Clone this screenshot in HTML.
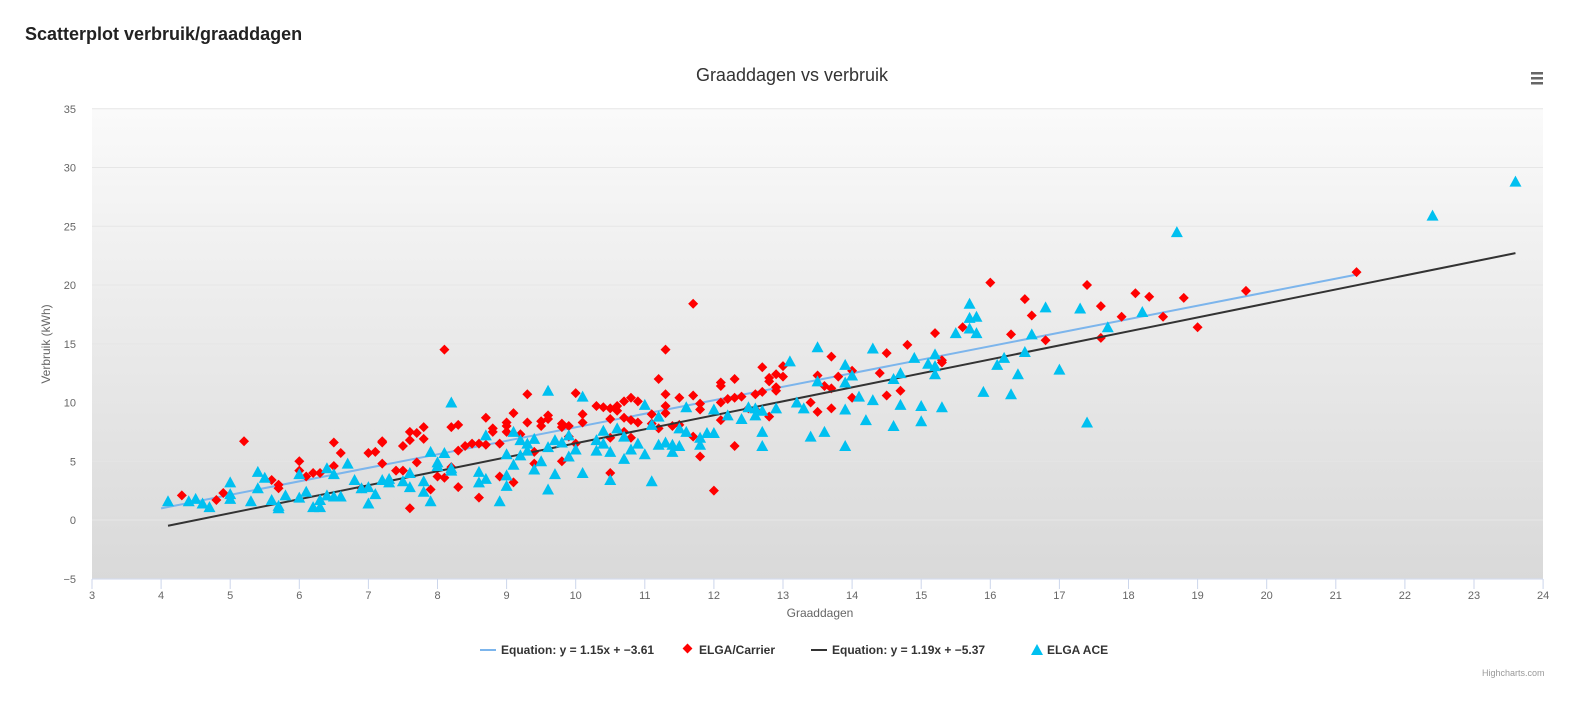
<!DOCTYPE html>
<html><head><meta charset="utf-8">
<style>
body{margin:0;background:#fff;width:1573px;height:706px;overflow:hidden;font-family:"Liberation Sans",sans-serif;}
h1{position:absolute;left:25px;top:24px;margin:0;font-size:18px;font-weight:bold;color:#222;}
svg{position:absolute;left:0;top:0;}
</style></head><body>
<h1>Scatterplot verbruik/graaddagen</h1>
<svg id="s" width="1573" height="706" xmlns="http://www.w3.org/2000/svg">
<defs><linearGradient id="g" x1="0" y1="0" x2="0" y2="1"><stop offset="0" stop-color="#fafafa"/><stop offset="1" stop-color="#d9d9d9"/></linearGradient></defs>
<text x="792" y="81" text-anchor="middle" font-size="18" fill="#333">Graaddagen vs verbruik</text>
<rect x="92" y="109" width="1451" height="470" fill="url(#g)"/>
<g fill="#666"><rect x="1531" y="72" width="12" height="2.5"/><rect x="1531" y="77" width="12" height="2.5"/><rect x="1531" y="82" width="12" height="2.5"/></g>
<g id="grid"></g>
<text transform="translate(50,344) rotate(-90)" text-anchor="middle" font-size="12" fill="#666">Verbruik (kWh)</text>
<text x="820" y="617" text-anchor="middle" font-size="12" fill="#666">Graaddagen</text>
<g id="pts"></g>
<g font-size="12" font-weight="bold" fill="#333">
<line x1="480" y1="650" x2="496" y2="650" stroke="#7cb5ec" stroke-width="2"/><text x="501" y="654">Equation: y = 1.15x + −3.61</text>
<rect x="684" y="645" width="7" height="7" fill="red" transform="rotate(45 687.5 648.5)"/><text x="699" y="654">ELGA/Carrier</text>
<line x1="811" y1="650" x2="827" y2="650" stroke="#333" stroke-width="2"/><text x="832" y="654">Equation: y = 1.19x + −5.37</text>
<path d="M1031,655 L1037,644 L1043,655Z" fill="#00c0f0"/><text x="1047" y="654">ELGA ACE</text>
</g>
<text x="1482" y="676" font-size="9" fill="#999">Highcharts.com</text>
</svg>
<script>
var X=function(x){return 92+(x-3)*69.1},Y=function(y){return 520-y*11.75};
var ns="http://www.w3.org/2000/svg",g=document.getElementById('grid'),p=document.getElementById('pts'),h='';
for(var v=-5;v<=35;v+=5){h+='<line x1="92" x2="1543" y1="'+Y(v)+'" y2="'+Y(v)+'" stroke="#e6e6e6"/>';h+='<text x="76" y="'+(Y(v)+4)+'" text-anchor="end" font-size="11" fill="#666">'+(v<0?'−5':v)+'</text>';}
h+='<line x1="92" x2="1543" y1="579" y2="579" stroke="#ccd6eb"/>';
for(var t=3;t<=24;t++){var xx=X(t);h+='<line x1="'+xx+'" x2="'+xx+'" y1="579" y2="589" stroke="#ccd6eb"/><text x="'+xx+'" y="599" text-anchor="middle" font-size="11" fill="#666">'+t+'</text>';}
g.innerHTML=h;
var R=[[4.3,2.1],[4.8,1.7],[4.9,2.3],[5.2,6.7],[5.6,3.4],[5.7,2.7],[5.7,3.0],[6.0,5.0],[6.0,4.2],[6.1,3.7],[6.2,4.0],[6.3,4.0],[6.5,4.6],[6.5,6.6],[6.6,5.7],[6.9,2.7],[7.0,5.7],[7.1,5.8],[7.2,6.7],[7.2,6.6],[7.2,4.8],[7.4,4.2],[7.5,4.2],[7.5,6.3],[7.6,6.8],[7.6,7.5],[7.6,1.0],[7.7,7.4],[7.7,4.9],[7.8,7.9],[7.8,6.9],[7.9,2.6],[8.0,3.7],[8.1,3.6],[8.1,14.5],[8.2,4.5],[8.2,7.9],[8.3,8.1],[8.3,5.9],[8.3,2.8],[8.4,6.3],[8.5,6.5],[8.6,6.5],[8.6,1.9],[8.7,6.4],[8.7,8.7],[8.8,7.8],[8.8,7.5],[8.9,6.5],[8.9,3.7],[9.0,7.5],[9.0,8.0],[9.0,8.3],[9.1,9.1],[9.1,3.2],[9.2,7.3],[9.3,10.7],[9.3,8.3],[9.4,5.8],[9.4,4.8],[9.5,8.4],[9.5,8.0],[9.6,8.9],[9.6,8.6],[9.8,8.2],[9.8,7.9],[9.8,5.0],[9.9,8.0],[9.9,7.1],[10.0,10.8],[10.0,6.5],[10.1,9.0],[10.1,8.3],[10.3,9.7],[10.4,9.6],[10.5,7.0],[10.5,9.5],[10.5,8.6],[10.5,4.0],[10.6,9.7],[10.6,9.3],[10.7,10.1],[10.7,8.7],[10.7,7.5],[10.8,10.4],[10.8,8.5],[10.8,7.0],[10.9,10.1],[10.9,8.3],[11.1,9.0],[11.1,8.2],[11.2,12.0],[11.2,7.8],[11.3,14.5],[11.3,10.7],[11.3,9.7],[11.3,9.1],[11.4,8.0],[11.5,10.4],[11.5,8.1],[11.7,18.4],[11.7,10.6],[11.7,7.1],[11.8,9.9],[11.8,9.4],[11.8,5.4],[12.0,2.5],[12.1,11.7],[12.1,11.4],[12.1,10.0],[12.1,8.5],[12.2,10.3],[12.3,10.4],[12.3,12.0],[12.3,6.3],[12.4,10.5],[12.5,9.5],[12.6,9.4],[12.6,10.7],[12.7,13.0],[12.7,10.9],[12.8,11.8],[12.8,12.1],[12.8,8.8],[12.9,12.4],[12.9,11.3],[12.9,11.0],[13.0,13.1],[13.0,12.2],[13.4,10.0],[13.5,12.3],[13.5,9.2],[13.6,11.4],[13.7,13.9],[13.7,11.2],[13.7,9.5],[13.8,12.2],[14.0,12.7],[14.0,10.4],[14.4,12.5],[14.5,14.2],[14.5,10.6],[14.7,11.0],[14.8,14.9],[15.2,15.9],[15.3,13.6],[15.3,13.4],[15.6,16.4],[16.0,20.2],[16.3,15.8],[16.5,18.8],[16.6,17.4],[16.8,15.3],[17.4,20.0],[17.6,18.2],[17.6,15.5],[17.9,17.3],[18.1,19.3],[18.3,19.0],[18.5,17.3],[18.8,18.9],[19.0,16.4],[19.7,19.5],[21.3,21.1]];
var B=[[4.1,1.6],[4.4,1.6],[4.5,1.8],[4.6,1.4],[4.7,1.1],[5.0,3.2],[5.0,2.2],[5.0,1.8],[5.3,1.6],[5.4,4.1],[5.4,2.7],[5.5,3.6],[5.6,1.7],[5.7,1.2],[5.7,1.0],[5.8,2.1],[6.0,1.9],[6.0,3.9],[6.1,2.4],[6.2,1.1],[6.3,1.1],[6.3,1.7],[6.4,2.1],[6.4,4.4],[6.5,2.0],[6.5,3.9],[6.6,2.0],[6.7,4.8],[6.8,3.4],[6.9,2.7],[7.0,2.8],[7.0,1.4],[7.1,2.2],[7.2,3.4],[7.3,3.5],[7.3,3.2],[7.5,3.3],[7.6,2.8],[7.6,4.0],[7.8,3.3],[7.8,2.4],[7.9,1.6],[7.9,5.8],[8.0,4.6],[8.0,4.9],[8.1,5.7],[8.2,4.2],[8.2,10.0],[8.2,4.4],[8.6,4.1],[8.6,3.2],[8.7,7.2],[8.7,3.5],[8.9,1.6],[9.0,5.6],[9.0,2.9],[9.0,3.8],[9.1,4.7],[9.1,7.5],[9.2,6.8],[9.2,5.5],[9.3,5.9],[9.3,6.5],[9.4,6.9],[9.4,4.3],[9.5,5.0],[9.6,11.0],[9.6,6.2],[9.6,2.6],[9.7,6.8],[9.7,3.9],[9.8,6.6],[9.9,5.4],[9.9,7.2],[10.0,6.0],[10.1,10.5],[10.1,4.0],[10.3,6.8],[10.3,5.9],[10.4,6.5],[10.4,7.6],[10.5,5.8],[10.5,3.4],[10.6,7.8],[10.7,7.1],[10.7,5.2],[10.8,6.0],[10.9,6.5],[11.0,9.8],[11.0,5.6],[11.1,3.3],[11.1,8.1],[11.2,6.4],[11.2,8.8],[11.3,6.6],[11.4,6.4],[11.4,5.8],[11.5,7.8],[11.5,6.3],[11.6,9.6],[11.6,7.5],[11.8,6.4],[11.8,7.0],[11.9,7.4],[12.0,9.4],[12.0,7.4],[12.2,8.9],[12.4,8.6],[12.5,9.6],[12.6,8.9],[12.6,9.5],[12.7,9.3],[12.7,7.5],[12.7,6.3],[12.9,9.5],[13.1,13.5],[13.2,10.0],[13.3,9.5],[13.4,7.1],[13.5,14.7],[13.5,11.8],[13.6,7.5],[13.9,13.2],[13.9,11.7],[13.9,9.4],[13.9,6.3],[14.0,12.3],[14.1,10.5],[14.2,8.5],[14.3,14.6],[14.3,10.2],[14.6,12.0],[14.6,8.0],[14.7,12.5],[14.7,9.8],[14.9,13.8],[15.0,9.7],[15.0,8.4],[15.1,13.3],[15.2,14.1],[15.2,13.1],[15.2,12.4],[15.3,9.6],[15.5,15.9],[15.7,18.4],[15.7,17.2],[15.7,16.3],[15.8,17.3],[15.8,15.9],[15.9,10.9],[16.1,13.2],[16.2,13.8],[16.3,10.7],[16.4,12.4],[16.5,14.3],[16.6,15.8],[16.8,18.1],[17.0,12.8],[17.3,18.0],[17.4,8.3],[17.7,16.4],[18.2,17.7],[18.7,24.5],[22.4,25.9],[23.6,28.8]];
var s='';
s+='<line x1="'+X(4)+'" y1="'+Y(1.15*4-3.61)+'" x2="'+X(21.3)+'" y2="'+Y(1.15*21.3-3.61)+'" stroke="#7cb5ec" stroke-width="2"/>';
R.forEach(function(d){var x=X(d[0]),y=Y(d[1]);s+='<path d="M'+x+','+(y-5)+'L'+(x+5)+','+y+'L'+x+','+(y+5)+'L'+(x-5)+','+y+'Z" fill="red"/>';});
s+='<line x1="'+X(4.1)+'" y1="'+Y(1.19*4.1-5.37)+'" x2="'+X(23.6)+'" y2="'+Y(1.19*23.6-5.37)+'" stroke="#333" stroke-width="2"/>';
B.forEach(function(d){var x=X(d[0]),y=Y(d[1]);s+='<path d="M'+x+','+(y-6)+'L'+(x+6)+','+(y+5)+'L'+(x-6)+','+(y+5)+'Z" fill="#00c0f0"/>';});
p.innerHTML=s;
</script>
</body></html>
